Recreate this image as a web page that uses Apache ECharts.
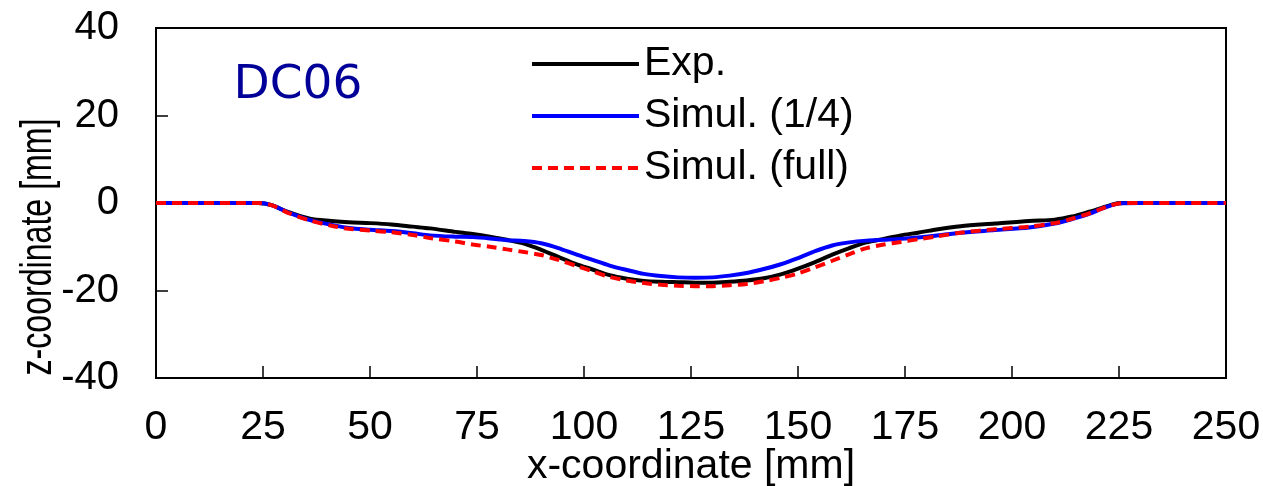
<!DOCTYPE html>
<html>
<head>
<meta charset="utf-8">
<script src="https://cdn.jsdelivr.net/npm/echarts@6/dist/echarts.min.js"></script>
<style>
html,body{margin:0;padding:0;background:#fff;}
#chart{width:1263px;height:486px;}
</style>
</head>
<body>
<div id="chart"></div>
<script>
// x-coordinates [mm]
const xs = [0, 10, 20, 24, 27, 31, 36, 41, 45, 50, 55, 60, 64, 70, 74, 78, 82, 86, 90, 94, 98, 102, 106, 110, 114, 118, 122, 126, 130, 134, 138, 142, 146, 150, 154, 158, 162, 166, 170, 174, 178, 182, 188, 196, 204, 210, 214, 218, 221, 223, 225, 230, 240, 250];
// z-coordinates [mm]
const expZ = [0, 0, 0, 0, -0.5, -2.1, -3.6, -4.1, -4.4, -4.6, -4.9, -5.4, -5.8, -6.6, -7.1, -7.7, -8.4, -9.3, -10.7, -12.3, -13.9, -15.2, -16.5, -17.3, -17.8, -18.0, -18.1, -18.2, -18.2, -18.0, -17.7, -17.2, -16.3, -15.0, -13.5, -11.8, -10.3, -9.0, -8.2, -7.4, -6.8, -6.1, -5.3, -4.7, -4.1, -3.8, -3.1, -2.0, -1.1, -0.5, 0, 0, 0, 0];
const simQuarterZ = [0, 0, 0, 0, -0.5, -2.2, -3.9, -5.0, -5.7, -6.1, -6.4, -6.9, -7.4, -7.7, -7.8, -8.1, -8.5, -8.7, -9.2, -10.3, -11.7, -13.0, -14.3, -15.3, -16.2, -16.7, -17.0, -17.1, -17.0, -16.6, -16.0, -15.1, -14.0, -12.6, -11.0, -9.7, -9.0, -8.6, -8.4, -8.2, -7.9, -7.5, -6.8, -6.2, -5.6, -4.7, -3.7, -2.5, -1.3, -0.6, -0.1, 0, 0, 0];
const simFullZ = [0, 0, 0, 0, -0.5, -2.3, -4.0, -5.2, -5.9, -6.3, -6.7, -7.3, -8.0, -8.8, -9.5, -10.0, -10.6, -11.2, -11.9, -13.0, -14.3, -15.6, -16.9, -17.7, -18.3, -18.7, -18.9, -19.0, -19.0, -18.8, -18.5, -17.9, -17.1, -16.1, -14.7, -13.2, -11.7, -10.3, -9.5, -8.9, -8.3, -7.7, -6.8, -6.0, -5.4, -4.6, -3.6, -2.4, -1.3, -0.6, -0.1, 0, 0, 0];
const seriesNames = ['Exp.', 'Simul. (1/4)', 'Simul. (full)'];
const xTicks = {min: 0, max: 250, interval: 25};
const yTicks = {min: -40, max: 40, interval: 20};

const font = 'Liberation Sans, Arial, sans-serif';
const pair = z => xs.map((x, i) => [x, z[i]]);

const chart = echarts.init(document.getElementById('chart'));
chart.setOption({
  animation: false,
  backgroundColor: '#fff',
  grid: {left: 156, right: 37, top: 28, bottom: 108, show: true, borderColor: '#000', borderWidth: 2, outerBoundsMode: 'none', containLabel: false},
  legend: {
    orient: 'vertical', left: 525, top: 38, itemWidth: 107, itemHeight: 14, itemGap: 10,
    itemStyle: {opacity: 0},
    lineStyle: {width: 4},
    textStyle: {fontFamily: font, fontSize: 41, color: '#000', lineHeight: 42},
    data: seriesNames
  },
  xAxis: {
    type: 'value', min: xTicks.min, max: xTicks.max, interval: xTicks.interval,
    name: 'x-coordinate [mm]', nameLocation: 'middle', nameGap: 68, nameMoveOverlap: false,
    nameTextStyle: {fontFamily: font, fontSize: 41, color: '#000'},
    axisLine: {show: true, onZero: false, lineStyle: {color: '#000', width: 2}},
    axisTick: {show: true, inside: true, length: 12, lineStyle: {color: '#000', width: 1.5}},
    axisLabel: {fontFamily: font, fontSize: 41, color: '#000', margin: 29},
    splitLine: {show: false}
  },
  yAxis: {
    type: 'value', min: yTicks.min, max: yTicks.max, interval: yTicks.interval,
    axisLine: {show: true, lineStyle: {color: '#000', width: 2}},
    axisTick: {show: true, inside: true, length: 12, lineStyle: {color: '#000', width: 1.5}},
    axisLabel: {fontFamily: font, fontSize: 40, color: '#000', margin: 37},
    splitLine: {show: false}
  },
  graphic: [
    {type: 'text', x: 39, y: 247, rotation: Math.PI / 2, scaleX: 0.73,
     style: {text: 'z-coordinate [mm]', fontFamily: font, fontSize: 44, fill: '#000', align: 'center', verticalAlign: 'middle'}},
    {type: 'text', x: 298, y: 86,
     style: {text: 'DC06', fontFamily: 'DejaVu Sans', fontSize: 47, fill: '#000099', align: 'center', verticalAlign: 'middle'}}
  ],
  series: [
    {name: seriesNames[0], type: 'line', data: pair(expZ), smooth: 0.3, symbol: 'none', lineStyle: {color: '#000', width: 4}, itemStyle: {color: '#000'}, z: 2},
    {name: seriesNames[1], type: 'line', data: pair(simQuarterZ), smooth: 0.3, symbol: 'none', lineStyle: {color: '#0000ff', width: 4}, itemStyle: {color: '#0000ff'}, z: 3},
    {name: seriesNames[2], type: 'line', data: pair(simFullZ), smooth: 0.3, symbol: 'none', lineStyle: {color: '#ff0000', width: 4, type: [10, 6]}, itemStyle: {color: '#ff0000'}, z: 4}
  ]
});
</script>
</body>
</html>
